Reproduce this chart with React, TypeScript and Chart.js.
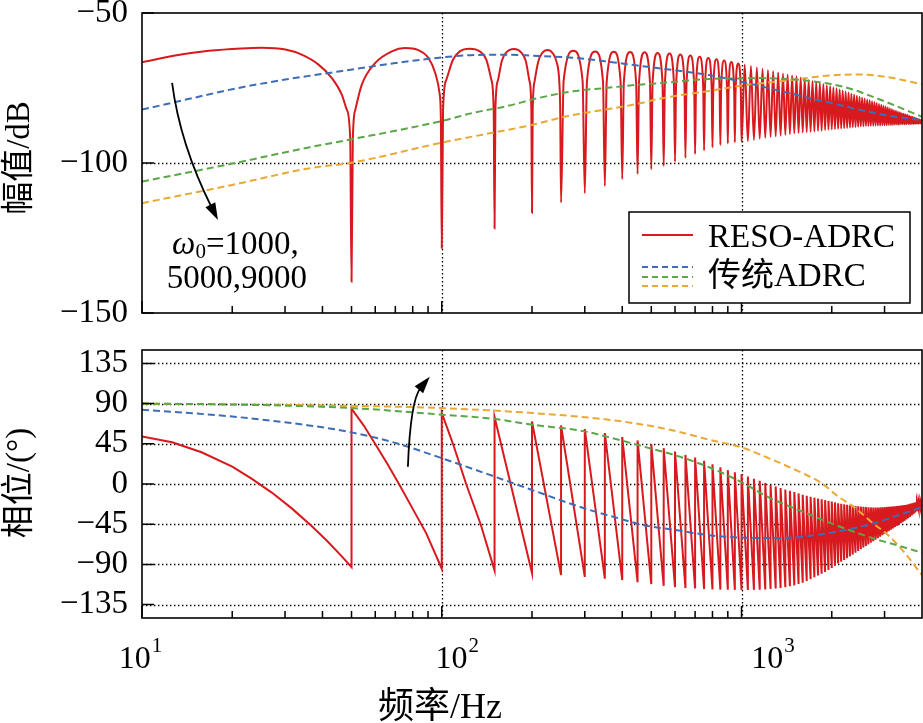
import React, { useEffect, useRef } from 'react';
import { Chart, registerables } from 'chart.js';

Chart.register(...registerables);

const SERIF = '"Liberation Serif", "Noto Sans CJK SC", serif';

// ---------------- axes ----------------
const freqMin = 10;
const freqMax = 4000;
const freqMajor = [10, 100, 1000];
const freqMajorExp = ['1', '2', '3'];
const freqMinor = [20, 30, 40, 50, 60, 70, 80, 90, 200, 300, 400, 500, 600, 700, 800, 900, 2000, 3000];
const magMin = -150;
const magMax = -50;
const magTicks = [-150, -100, -50];
const phaseMin = -150;
const phaseMax = 150;
const phaseTicks = [-135, -90, -45, 0, 45, 90, 135];

// ---------------- 传统ADRC (ω0 = 1000, 5000, 9000) ----------------
const blueMagHz = [10, 15, 20, 30, 46, 70, 100, 130, 165, 210, 273, 350, 450, 530, 780, 1000, 1480, 2190, 3000, 4000];
const blueMagDb = [-82.2, -78.2, -75.4, -72.2, -69.4, -66.7, -64.8, -64.0, -63.9, -64.3, -64.9, -66.1, -67.5, -68.4, -70.7, -72.9, -77.0, -81.0, -84.0, -85.7];
const greenMagHz = [10, 20, 36, 50, 100, 127, 164, 211, 273, 352, 454, 530, 780, 1000, 1150, 1480, 1600, 2190, 2820, 4000];
const greenMagDb = [-106.2, -100.2, -94.8, -92.1, -86.0, -83.3, -81.1, -78.3, -76.1, -75.0, -73.9, -73.4, -72.0, -71.8, -71.7, -72.1, -72.4, -74.6, -78.4, -84.6];
const orangeMagHz = [10, 20, 36, 50, 100, 200, 273, 352, 454, 530, 780, 1000, 1480, 1920, 2450, 3170, 4000];
const orangeMagDb = [-113.4, -107.3, -101.8, -99.9, -93.2, -87.3, -84.0, -82.2, -80.2, -78.6, -76.0, -74.2, -72.3, -70.9, -70.5, -71.6, -73.8];

const bluePhHz = [10, 20, 36, 50, 70, 100, 150, 200, 300, 390, 470, 610, 780, 1000, 1250, 1600, 2100, 2700, 3200, 4000];
const bluePhDeg = [83.2, 75.5, 65.6, 57.8, 46, 28.9, 8.3, -6.7, -27.4, -38.5, -46, -51.7, -57.4, -60, -60.5, -59, -53, -45, -37, -26];
const greenPhHz = [10, 20, 50, 100, 150, 200, 300, 360, 470, 610, 780, 1000, 1250, 1600, 2100, 2700, 3500, 4000];
const greenPhDeg = [90, 89, 85, 77.6, 72.8, 66.4, 58.9, 52.5, 42, 31.5, 18.7, 2, -16, -31, -47, -60, -71, -77];
const orangePhHz = [10, 50, 100, 200, 360, 470, 610, 780, 1000, 1250, 1600, 1850, 2100, 2400, 2700, 3100, 3500, 4000];
const orangePhDeg = [90, 87.5, 85, 79.5, 72, 66.4, 58.9, 49.5, 41, 28, 12, 1, -14, -27, -42, -58, -77, -102];

// ---------------- RESO-ADRC ----------------
// resonant notch frequencies
const notchHz = [50, 100, 150, 200, 250, 300, 350, 400, 450, 500, 550, 600, 650, 700, 750, 800, 850, 900, 950, 1000,
  1050, 1100, 1150, 1200, 1250, 1300, 1350, 1400, 1450, 1500, 1550, 1600, 1650, 1700, 1750, 1800, 1850, 1900, 1950, 2000,
  2050, 2100, 2150, 2200, 2250, 2300, 2350, 2400, 2450, 2500, 2550, 2600, 2650, 2700, 2750, 2800, 2850, 2900, 2950, 3000,
  3050, 3100, 3150, 3200, 3250, 3300, 3350, 3400, 3450, 3500, 3550, 3600, 3650, 3700, 3750, 3800, 3850, 3900, 3950, 4000];
// magnitude at the bottom of each notch (dB)
const resoNotchDb = [-139.6, -128.4, -121.8, -116.6, -113.2, -110.1, -107.7, -105.4, -103.7, -102.1, -101.0, -99.6, -98.3, -97.0, -95.8, -94.8, -94.0, -93.5, -93.1, -92.9,
  -92.7, -92.3, -91.9, -91.6, -91.3, -91.1, -90.9, -90.6, -90.4, -90.1, -90.0, -89.8, -89.7, -89.6, -89.5, -89.3, -89.2, -89.0, -88.9, -88.8,
  -88.7, -88.6, -88.5, -88.4, -88.3, -88.2, -88.1, -88.0, -87.9, -87.8, -87.8, -87.7, -87.7, -87.6, -87.6, -87.5, -87.5, -87.5, -87.4, -87.4,
  -87.4, -87.3, -87.3, -87.3, -87.2, -87.2, -87.2, -87.1, -87.1, -87.1, -87.0, -87.0, -87.0, -86.9, -86.9, -86.9, -86.9, -86.8, -86.8, -86.8];
// low-frequency arches (10 Hz - 250 Hz), read point by point
const resoMagLowHz = [10, 12.9, 16.7, 21.5, 25.1, 30.1, 34.1, 38.8, 43, 46.4, 48.2, 49.5,
  50.5, 51.5, 54.1, 59.9, 68.1, 75.4, 83.6, 90.3, 95.1, 98.3, 99.3,
  101, 103.6, 109, 114.8, 123.9, 133.9, 140.9, 146.3, 149,
  151, 153.9, 158.6, 164, 174.4, 184.3, 190.7, 196, 199,
  201.1, 204, 209.7, 215.6, 225.6, 234.9, 241.5, 246.6, 248.4];
const resoMagLowDb = [-66.4, -64.2, -62.6, -61.8, -61.6, -62.2, -63.9, -67.2, -71.7, -77.2, -82.2, -92,
  -92, -82.2, -73.9, -66.7, -62.8, -61.7, -62.4, -65, -70, -76.7, -85,
  -82.2, -72.2, -65.6, -62.8, -61.9, -62.8, -65.6, -72.2, -82.2,
  -82, -72.5, -66, -63.2, -62, -63.2, -66, -72.5, -82,
  -82.5, -72.8, -66.3, -63.5, -62.3, -63.5, -66.3, -72.8, -82.5];
// arch shoulders next to notches 250 Hz - 1000 Hz
const resoShoulderHz = [255, 295, 305, 345, 355, 395, 405, 445, 455, 495, 505, 545, 555, 595, 605, 645, 655, 695, 705, 745, 755, 795, 805, 845, 855, 895, 905, 945, 955, 995];
const resoShoulderDb = [-72.6, -72.6, -72.8, -72.8, -72.9, -72.9, -73.0, -73.0, -73.1, -73.1, -73.3, -73.3, -73.5, -73.5, -73.8, -73.8, -74.2, -74.2, -74.6, -74.6, -75.0, -75.0, -75.4, -75.4, -75.8, -75.8, -76.3, -76.3, -76.8, -76.8];
// arch tops between notches 250 Hz ... 4000 Hz
const resoArchTopDb = [-62.6, -62.8, -62.9, -63.0, -63.1, -63.3, -63.5, -63.8, -64.2, -64.6, -65.0, -65.4, -65.8, -66.3, -66.8,
  -67.2, -67.7, -68.2, -68.6, -69.0, -69.4, -69.8, -70.2, -70.5, -70.8,
  -71.1, -71.5, -71.9, -72.3, -72.7, -73.0, -73.4, -73.7, -74.1, -74.4,
  -74.8, -75.1, -75.5, -75.8, -76.2, -76.5, -76.9, -77.2, -77.6, -77.9,
  -78.2, -78.5, -78.8, -79.1, -79.4, -79.7, -80.0, -80.3, -80.6, -80.9,
  -81.2, -81.5, -81.8, -82.1, -82.4, -82.6, -82.9, -83.1, -83.4, -83.6,
  -83.8, -84.0, -84.3, -84.5, -84.7, -84.9, -85.1, -85.3, -85.5, -85.7];

// phase: value just after the jump at each notch (50 ... 3950 Hz)
const sawTopDeg = [84.4, 79.5, 75, 70, 65.5, 61.5, 57, 52.5, 48.8, 44.6, 40.1, 36.4, 32.6, 29.6, 25.9, 22.1, 18.7, 15.5, 13.2, 11,
  8.3, 5.8, 3.5, 1.2, -1, -2.8, -4.5, -6.1, -7.6, -9,
  -10.5, -12, -13.2, -14.3, -15.3, -16.3, -17.2, -18.1, -18.9, -19.7,
  -20.6, -21.5, -22.1, -22.7, -23.3, -23.8, -24.3, -24.7, -25.0, -25.3,
  -25.6, -25.8, -26.0, -26.2, -26.3, -26.3, -26.3, -26.2, -26.1, -25.9,
  -25.7, -25.5, -25.3, -25.1, -24.9, -24.6, -24.4, -24.1, -23.9, -23.6,
  -23.1, -22.6, -22.1, -21.6, -21.0, -20.4, -19.8, -19.2, -18.6];
// phase: value just before the jump at each notch (50 ... 4000 Hz)
const sawBottomDeg = [-93, -94.8, -96.7, -99.7, -102, -104, -106, -107.5, -110, -112, -114, -115.5, -116.5, -117, -117.5, -118, -118.2, -118.4, -118.5, -118.6,
  -118.6, -118.5, -118.4, -118.1, -117.5, -117, -116.3, -115.5, -114.5, -113.5,
  -112, -110.5, -108.5, -106.5, -104.5, -102.5, -100.5, -98.5, -96.2, -94,
  -91.5, -89, -87, -85, -83, -81, -79, -77, -75, -73,
  -71.2, -69.4, -67.6, -65.8, -64, -62.3, -60.6, -59, -57.4, -55.8,
  -54.2, -52.7, -51.2, -49.7, -48.2, -46.8, -45.4, -44, -42.6, -41.2,
  -39.7, -38.2, -36.7, -35.2, -33.6, -32, -30.4, -28.8, -27.2, -25.5];
// phase: interior points of the first, wide sawtooth segments
const resoPhLowHz = [10, 12.6, 15.8, 20, 23.2, 27.1, 31.6, 36.8, 41.4, 46.4, 55, 60.2, 66.2, 73, 80.6, 88.7, 109, 120.6, 134.8];
const resoPhLowDeg = [53.2, 46.8, 35.5, 19.4, 6, -9.6, -27.3, -47.1, -63.5, -81, 65.1, 44, 21.2, -3.5, -29.8, -55, 45, 0, -45];

// ---------------- styles ----------------
const RED = '#d81a1f';
const BLUE = '#3d6db5';
const GREEN = '#5ba646';
const ORANGE = '#eaa935';

type P = { x: number; y: number };
const pts = (xs: number[], ys: number[]): P[] => xs.map((x, i) => ({ x, y: ys[i] }));

function buildResoMag(): P[] {
  const all: P[] = [];
  all.push(...pts(resoMagLowHz, resoMagLowDb));
  all.push(...pts(notchHz, resoNotchDb));
  all.push(...pts(resoShoulderHz, resoShoulderDb));
  for (let i = 0; i < resoArchTopDb.length; i++) {
    const lo = notchHz[i + 4];
    const hi = notchHz[i + 5];
    all.push({ x: (lo + hi) / 2, y: resoArchTopDb[i] });
  }
  all.sort((a, b) => a.x - b.x);
  return all;
}

function buildResoPhase(): P[] {
  const out: P[] = [];
  let j = 0;
  for (let i = 0; i < notchHz.length; i++) {
    const f = notchHz[i];
    while (j < resoPhLowHz.length && resoPhLowHz[j] < f) {
      out.push({ x: resoPhLowHz[j], y: resoPhLowDeg[j] });
      j++;
    }
    out.push({ x: f, y: sawBottomDeg[i] });
    if (i < sawTopDeg.length) out.push({ x: f, y: sawTopDeg[i] });
  }
  return out;
}

const fmtNum = (v: number) => (v < 0 ? '\u2212' + Math.abs(v) : String(v));

function dashedSet(data: P[], color: string) {
  return {
    data,
    borderColor: color,
    borderWidth: 2,
    borderDash: [7, 4],
    pointRadius: 0,
    fill: false,
    cubicInterpolationMode: 'monotone' as const,
  };
}

function drawArrow(ctx: CanvasRenderingContext2D, s: number[], c: number[], t: number[]) {
  ctx.save();
  ctx.strokeStyle = '#000';
  ctx.fillStyle = '#000';
  ctx.lineWidth = 1.8;
  const dx = t[0] - c[0];
  const dy = t[1] - c[1];
  const len = Math.hypot(dx, dy);
  const ux = dx / len;
  const uy = dy / len;
  const headL = 17;
  const headW = 5.5;
  const bx = t[0] - ux * headL;
  const by = t[1] - uy * headL;
  ctx.beginPath();
  ctx.moveTo(s[0], s[1]);
  ctx.quadraticCurveTo(c[0], c[1], bx + ux * 3, by + uy * 3);
  ctx.stroke();
  ctx.beginPath();
  ctx.moveTo(t[0], t[1]);
  ctx.lineTo(bx - uy * headW, by + ux * headW);
  ctx.lineTo(bx + uy * headW, by - ux * headW);
  ctx.closePath();
  ctx.fill();
  ctx.restore();
}

function makeFrame(opts: {
  id: string;
  hGrid: number[];
  yTicks: number[];
  yTitle: string;
  yTitleY: number;
  extra?: (chart: any) => void;
}) {
  return {
    id: opts.id,
    beforeDatasetsDraw(chart: any) {
      const { ctx, chartArea: a, scales } = chart;
      const x = scales.x;
      const y = scales.y;
      ctx.save();
      ctx.strokeStyle = '#000';
      ctx.lineWidth = 1.3;
      ctx.setLineDash([1.4, 2.6]);
      for (const v of opts.hGrid) {
        const py = Math.round(y.getPixelForValue(v)) + 0.5;
        ctx.beginPath();
        ctx.moveTo(a.left, py);
        ctx.lineTo(a.right, py);
        ctx.stroke();
      }
      for (const v of freqMajor) {
        if (v <= freqMin) continue;
        const px = Math.round(x.getPixelForValue(v)) + 0.5;
        ctx.beginPath();
        ctx.moveTo(px, a.top);
        ctx.lineTo(px, a.bottom);
        ctx.stroke();
      }
      ctx.restore();
    },
    afterDatasetsDraw(chart: any) {
      const { ctx, chartArea: a, scales } = chart;
      const x = scales.x;
      const y = scales.y;
      ctx.save();
      ctx.strokeStyle = '#000';
      ctx.lineWidth = 1.5;
      ctx.setLineDash([]);
      ctx.beginPath();
      for (const v of freqMajor) {
        const px = x.getPixelForValue(v);
        ctx.moveTo(px, a.bottom);
        ctx.lineTo(px, a.bottom - 12);
      }
      for (const v of freqMinor) {
        const px = x.getPixelForValue(v);
        ctx.moveTo(px, a.bottom);
        ctx.lineTo(px, a.bottom - 7);
      }
      for (const v of opts.yTicks) {
        const py = y.getPixelForValue(v);
        ctx.moveTo(a.left, py);
        ctx.lineTo(a.left + 12, py);
      }
      ctx.stroke();
      ctx.lineWidth = 1.6;
      ctx.strokeRect(a.left, a.top, a.right - a.left, a.bottom - a.top);
      ctx.restore();
    },
    afterDraw(chart: any) {
      const { ctx } = chart;
      ctx.save();
      ctx.fillStyle = '#000';
      ctx.font = `33px ${SERIF}`;
      ctx.translate(20, opts.yTitleY);
      ctx.rotate(-Math.PI / 2);
      ctx.textAlign = 'center';
      ctx.textBaseline = 'middle';
      ctx.fillText(opts.yTitle, 0, 0);
      ctx.restore();
      if (opts.extra) opts.extra(chart);
    },
  };
}

const zeroPad = (s: any) => {
  s.paddingTop = 0;
  s.paddingBottom = 0;
  s.paddingLeft = 0;
  s.paddingRight = 0;
};

function baseOptions(yMin: number, yMax: number, yTickVals: number[], padTop: number, xHeight: number) {
  return {
    animation: false as const,
    responsive: false,
    devicePixelRatio: 1,
    events: [] as any[],
    layout: { padding: { left: 0, right: 1, top: padTop, bottom: 0 } },
    plugins: { legend: { display: false }, tooltip: { enabled: false }, title: { display: false } },
    elements: { point: { radius: 0 } },
    scales: {
      x: {
        type: 'logarithmic' as const,
        min: freqMin,
        max: freqMax,
        grid: { display: false, drawTicks: false },
        border: { display: false },
        ticks: { display: false },
        afterFit: (s: any) => {
          s.height = xHeight;
          zeroPad(s);
        },
      },
      y: {
        type: 'linear' as const,
        min: yMin,
        max: yMax,
        grid: { display: false, drawTicks: false },
        border: { display: false },
        afterBuildTicks: (s: any) => {
          s.ticks = yTickVals.map((v) => ({ value: v }));
        },
        ticks: {
          autoSkip: false,
          color: '#000',
          padding: 14,
          font: { family: SERIF, size: 33 },
          callback: (v: any) => fmtNum(Number(v)),
        },
        afterFit: (s: any) => {
          s.width = 142;
          zeroPad(s);
        },
      },
    },
  };
}

export default function App() {
  const topRef = useRef<HTMLCanvasElement | null>(null);
  const botRef = useRef<HTMLCanvasElement | null>(null);

  useEffect(() => {
    const topPlugin = makeFrame({
      id: 'frameTop',
      hGrid: [-100],
      yTicks: magTicks,
      yTitle: '幅值/dB',
      yTitleY: 158,
      extra: (chart: any) => {
        const { ctx, chartArea: a, scales } = chart;
        const x = scales.x;
        const y = scales.y;
        drawArrow(
          ctx,
          [x.getPixelForValue(12.6), y.getPixelForValue(-73.3)],
          [x.getPixelForValue(13.39), y.getPixelForValue(-93.7)],
          [x.getPixelForValue(17.92), y.getPixelForValue(-119)]
        );
        ctx.save();
        ctx.fillStyle = '#000';
        ctx.textBaseline = 'middle';
        ctx.textAlign = 'left';
        let tx = x.getPixelForValue(12.6);
        const ty = y.getPixelForValue(-127.3);
        ctx.font = `italic 33px ${SERIF}`;
        ctx.fillText('ω', tx, ty);
        tx += ctx.measureText('ω').width;
        ctx.font = `21px ${SERIF}`;
        ctx.fillText('0', tx, ty + 8);
        tx += ctx.measureText('0').width;
        ctx.font = `33px ${SERIF}`;
        ctx.fillText('=1000,', tx, ty);
        ctx.fillText('5000,9000', x.getPixelForValue(12.1), y.getPixelForValue(-138.7));
        ctx.restore();
        // legend
        ctx.save();
        const L = a.right - 293;
        const T = a.top + 199;
        const W = 281;
        const H = 91;
        ctx.fillStyle = '#fff';
        ctx.fillRect(L, T, W, H);
        ctx.strokeStyle = '#000';
        ctx.lineWidth = 1.5;
        ctx.strokeRect(L, T, W, H);
        ctx.lineWidth = 2;
        ctx.strokeStyle = RED;
        ctx.beginPath();
        ctx.moveTo(L + 13, T + 23);
        ctx.lineTo(L + 64, T + 23);
        ctx.stroke();
        ctx.setLineDash([6, 4]);
        const dashRows: [string, number][] = [
          [BLUE, 55],
          [GREEN, 65],
          [ORANGE, 74],
        ];
        for (const [c, dy] of dashRows) {
          ctx.strokeStyle = c;
          ctx.beginPath();
          ctx.moveTo(L + 13, T + dy);
          ctx.lineTo(L + 64, T + dy);
          ctx.stroke();
        }
        ctx.setLineDash([]);
        ctx.fillStyle = '#000';
        ctx.font = `33px ${SERIF}`;
        ctx.textBaseline = 'middle';
        ctx.textAlign = 'left';
        ctx.fillText('RESO-ADRC', L + 79, T + 26);
        ctx.fillText('传统ADRC', L + 79, T + 65);
        ctx.restore();
      },
    });

    const botPlugin = makeFrame({
      id: 'frameBot',
      hGrid: phaseTicks,
      yTicks: phaseTicks,
      yTitle: '相位/(°)',
      yTitleY: 153,
      extra: (chart: any) => {
        const { ctx, chartArea: a, scales } = chart;
        const x = scales.x;
        const y = scales.y;
        drawArrow(
          ctx,
          [x.getPixelForValue(77.1), y.getPixelForValue(19.4)],
          [x.getPixelForValue(78.6), y.getPixelForValue(94)],
          [x.getPixelForValue(91.2), y.getPixelForValue(120.1)]
        );
        const shifts = [-2, 15, 31];
        ctx.save();
        ctx.fillStyle = '#000';
        ctx.textAlign = 'left';
        ctx.textBaseline = 'alphabetic';
        const baseY = a.bottom + 50;
        freqMajor.forEach((v, i) => {
          const cx = x.getPixelForValue(v) + shifts[i];
          ctx.font = `32px ${SERIF}`;
          const w1 = ctx.measureText('10').width;
          ctx.font = `21px ${SERIF}`;
          const w2 = ctx.measureText(freqMajorExp[i]).width;
          const left = cx - (w1 + w2) / 2;
          ctx.font = `32px ${SERIF}`;
          ctx.fillText('10', left, baseY);
          ctx.font = `21px ${SERIF}`;
          ctx.fillText(freqMajorExp[i], left + w1 + 1, baseY - 16);
        });
        ctx.font = `36px ${SERIF}`;
        ctx.textAlign = 'center';
        ctx.fillText('频率/Hz', 440, a.bottom + 100);
        ctx.restore();
      },
    });

    const topChart = new Chart(topRef.current as HTMLCanvasElement, {
      type: 'line',
      data: {
        datasets: [
          dashedSet(pts(blueMagHz, blueMagDb), BLUE),
          dashedSet(pts(greenMagHz, greenMagDb), GREEN),
          dashedSet(pts(orangeMagHz, orangeMagDb), ORANGE),
          {
            data: buildResoMag(),
            borderColor: RED,
            borderWidth: 2,
            pointRadius: 0,
            fill: false,
            cubicInterpolationMode: 'monotone',
          },
        ],
      },
      options: baseOptions(magMin, magMax, magTicks, 13, 17) as any,
      plugins: [topPlugin],
    } as any);

    const botChart = new Chart(botRef.current as HTMLCanvasElement, {
      type: 'line',
      data: {
        datasets: [
          dashedSet(pts(bluePhHz, bluePhDeg), BLUE),
          dashedSet(pts(greenPhHz, greenPhDeg), GREEN),
          dashedSet(pts(orangePhHz, orangePhDeg), ORANGE),
          {
            data: buildResoPhase(),
            borderColor: RED,
            borderWidth: 2,
            pointRadius: 0,
            fill: false,
            tension: 0,
          },
        ],
      },
      options: baseOptions(phaseMin, phaseMax, phaseTicks, 20, 105) as any,
      plugins: [botPlugin],
    } as any);

    return () => {
      topChart.destroy();
      botChart.destroy();
    };
  }, []);

  return (
    <div style={{ position: 'absolute', left: 0, top: 0, width: 923, height: 723, background: '#fff', overflow: 'hidden' }}>
      <canvas ref={topRef} width={923} height={330} style={{ position: 'absolute', left: 0, top: 0, width: 923, height: 330 }} />
      <canvas ref={botRef} width={923} height={393} style={{ position: 'absolute', left: 0, top: 330, width: 923, height: 393 }} />
    </div>
  );
}
